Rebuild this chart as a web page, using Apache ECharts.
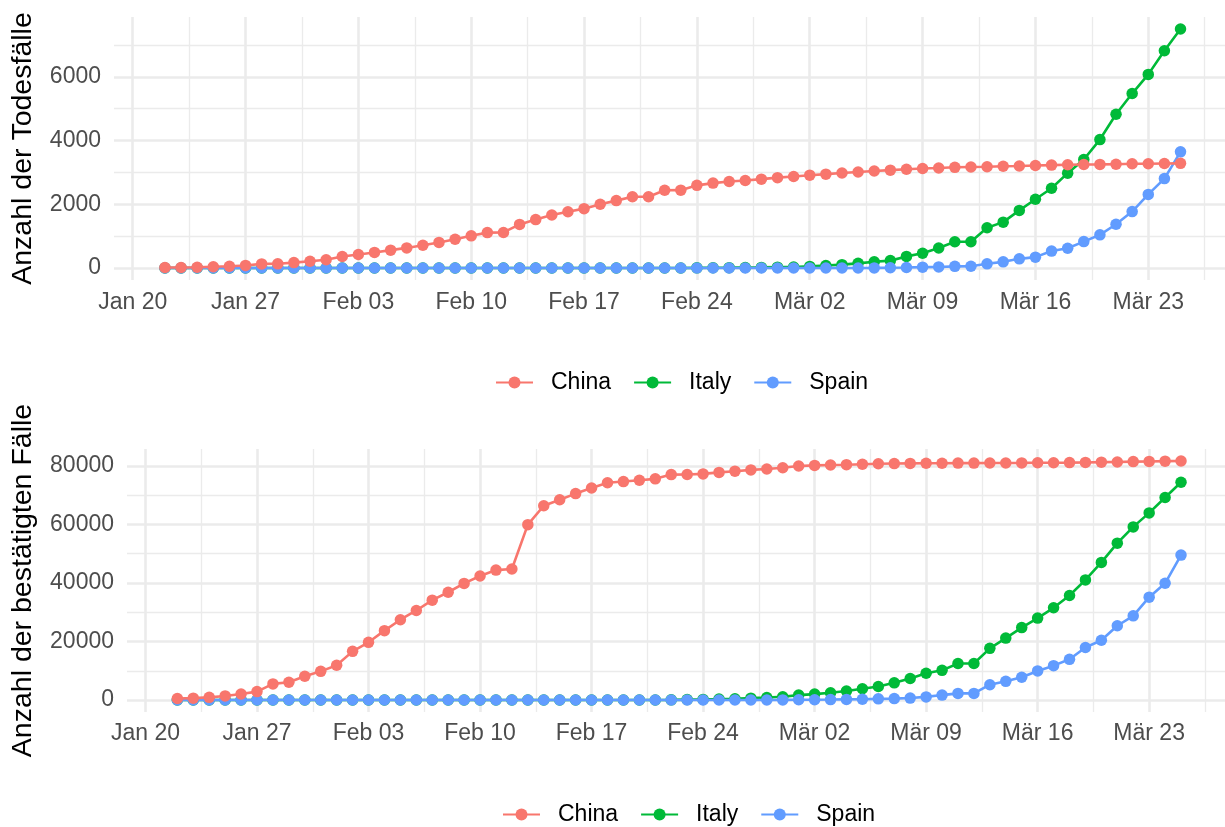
<!DOCTYPE html>
<html>
<head>
<meta charset="utf-8">
<script src="https://cdn.jsdelivr.net/npm/echarts@6/dist/echarts.min.js"></script>
<style>
html,body{margin:0;padding:0;background:#fff;}
#chart{width:1225px;height:827px;}
</style>
</head>
<body>
<div id="chart"></div>
<script>
// ---- Data ----
const dates = [
"2020-01-22","2020-01-23","2020-01-24","2020-01-25","2020-01-26","2020-01-27","2020-01-28","2020-01-29","2020-01-30","2020-01-31",
"2020-02-01","2020-02-02","2020-02-03","2020-02-04","2020-02-05","2020-02-06","2020-02-07","2020-02-08","2020-02-09","2020-02-10",
"2020-02-11","2020-02-12","2020-02-13","2020-02-14","2020-02-15","2020-02-16","2020-02-17","2020-02-18","2020-02-19","2020-02-20",
"2020-02-21","2020-02-22","2020-02-23","2020-02-24","2020-02-25","2020-02-26","2020-02-27","2020-02-28","2020-02-29",
"2020-03-01","2020-03-02","2020-03-03","2020-03-04","2020-03-05","2020-03-06","2020-03-07","2020-03-08","2020-03-09","2020-03-10",
"2020-03-11","2020-03-12","2020-03-13","2020-03-14","2020-03-15","2020-03-16","2020-03-17","2020-03-18","2020-03-19","2020-03-20",
"2020-03-21","2020-03-22","2020-03-23","2020-03-24","2020-03-25"
];

const deathsChina = [17,18,26,42,56,82,131,133,171,213,
259,361,425,490,562,632,717,804,904,1011,
1112,1117,1369,1521,1663,1766,1864,2003,2116,2238,
2238,2443,2445,2595,2665,2717,2746,2790,2837,
2872,2914,2947,2983,3015,3044,3072,3100,3123,3139,
3161,3172,3180,3193,3203,3217,3230,3241,3249,3253,
3259,3274,3274,3281,3285];

const deathsItaly = [0,0,0,0,0,0,0,0,0,0,
0,0,0,0,0,0,0,0,0,0,
0,0,0,0,0,0,0,0,0,0,
1,2,3,7,10,12,17,21,29,
34,52,79,107,148,197,233,366,463,631,
827,827,1266,1441,1809,2158,2503,2978,3405,4032,
4825,5476,6077,6820,7503];

const deathsSpain = [0,0,0,0,0,0,0,0,0,0,
0,0,0,0,0,0,0,0,0,0,
0,0,0,0,0,0,0,0,0,0,
0,0,0,0,0,0,0,0,0,
0,0,1,2,3,5,10,17,28,35,
54,55,133,195,289,342,533,623,830,1043,
1375,1772,2311,2808,3647];

const casesChina = [548,643,920,1406,2075,2877,5509,6087,8141,9802,
11891,16630,19716,23707,27440,30587,34110,36814,39829,42354,
44386,44759,59895,66358,68413,70513,72434,74211,74619,75077,
75550,77001,77022,77241,77754,78166,78600,78928,79356,
79932,80136,80261,80386,80537,80690,80770,80823,80860,80887,
80921,80932,80945,80977,81003,81033,81058,81102,81156,81250,
81305,81435,81498,81591,81661];

const casesItaly = [0,0,0,0,0,0,0,0,0,2,
2,2,2,2,2,2,3,3,3,3,
3,3,3,3,3,3,3,3,3,3,
20,62,155,229,322,453,655,888,1128,
1694,2036,2502,3089,3858,4636,5883,7375,9172,10149,
12462,12462,17660,21157,24747,27980,31506,35713,41035,47021,
53578,59138,63927,69176,74386];

const casesSpain = [0,0,0,0,0,0,0,0,0,0,
1,1,1,1,1,1,1,1,2,2,
2,2,2,2,2,2,2,2,2,2,
2,2,2,2,6,13,15,32,45,
84,120,165,222,259,400,500,673,1073,1695,
2277,2277,5232,6391,7798,9942,11748,13910,17963,20410,
25374,28768,35136,39885,49515];

// x tick labels (weekly breaks) and their dates
const xTickDates = ["2020-01-20","2020-01-27","2020-02-03","2020-02-10","2020-02-17","2020-02-24","2020-03-02","2020-03-09","2020-03-16","2020-03-23"];
const xTickLabels = ["Jan 20","Jan 27","Feb 03","Feb 10","Feb 17","Feb 24","Mär 02","Mär 09","Mär 16","Mär 23"];
const xMinorDates = ["2020-01-23T12:00:00Z","2020-01-30T12:00:00Z","2020-02-06T12:00:00Z","2020-02-13T12:00:00Z","2020-02-20T12:00:00Z","2020-02-27T12:00:00Z","2020-03-05T12:00:00Z","2020-03-12T12:00:00Z","2020-03-19T12:00:00Z","2020-03-26T12:00:00Z"];

const yTicksDeaths = [0,2000,4000,6000];
const yMinorDeaths = [1000,3000,5000,7000];
const yTicksCases = [0,20000,40000,60000,80000];
const yMinorCases = [10000,30000,50000,70000];

const countries = ["China","Italy","Spain"];
const colors = {China:"#F8766D", Italy:"#00BA38", Spain:"#619CFF"};

// ---- Helpers ----
const BASE = Date.UTC(2020,0,20);
function dayIdx(s){ const d = new Date(s.length===10 ? s+"T00:00:00Z" : s); return (d.getTime()-BASE)/86400000; }
const days = dates.map(dayIdx);
const majorDays = xTickDates.map(dayIdx);
const minorDays = xMinorDates.map(dayIdx);
function pairs(vals){ return vals.map((v,i)=>[days[i], v]); }
function xLabel(v){ const i = majorDays.indexOf(v); return i>=0 ? xTickLabels[i] : ""; }

const FONT = '"Liberation Sans", Arial, Helvetica, sans-serif';
const X_MIN = -1.16, X_MAX = 67.76;
const GRID_COLOR = "#EBEBEB";

function majorX(gi){
  return {gridIndex:gi, type:'value', min:X_MIN, max:X_MAX, position:'bottom',
    axisLine:{show:false}, axisTick:{show:false, customValues:majorDays},
    axisLabel:{customValues:majorDays, formatter:xLabel, color:'#4D4D4D', fontSize:23, fontFamily:FONT, margin: gi===0?11:10},
    splitLine:{show:true, lineStyle:{color:GRID_COLOR, width:2.6}}};
}
function minorX(gi){
  return {gridIndex:gi, type:'value', min:X_MIN, max:X_MAX, position:'bottom',
    axisLine:{show:false}, axisTick:{show:false, customValues:minorDays},
    axisLabel:{show:false},
    splitLine:{show:true, lineStyle:{color:GRID_COLOR, width:1.3}}};
}
function majorY(gi, min, max, ticks, name, gap){
  return {gridIndex:gi, type:'value', min:min, max:max,
    name:name, nameLocation:'middle', nameGap:gap, nameRotate:90,
    nameTextStyle:{color:'#000', fontSize:28.5, fontFamily:FONT},
    axisLine:{show:false}, axisTick:{show:false, customValues:ticks},
    axisLabel:{customValues:ticks, formatter:v=>String(v), color:'#4D4D4D', fontSize:23, fontFamily:FONT, margin:13},
    splitLine:{show:true, lineStyle:{color:GRID_COLOR, width:2.6}}};
}
function minorY(gi, min, max, ticks){
  return {gridIndex:gi, type:'value', min:min, max:max,
    axisLine:{show:false}, axisTick:{show:false, customValues:ticks},
    axisLabel:{show:false},
    splitLine:{show:true, lineStyle:{color:GRID_COLOR, width:1.3}}};
}
function mkSeries(name, vals, xi, yi, z){
  return {name:name, type:'line', xAxisIndex:xi, yAxisIndex:yi, data:pairs(vals),
    symbol:'circle', symbolSize:11.5, showSymbol:true, showAllSymbol:true,
    lineStyle:{color:colors[name], width:2.6}, itemStyle:{color:colors[name], borderWidth:0},
    z:z, silent:true, animation:false};
}
function mkLegend(left, top){
  return {data:countries, left:left, top:top, orient:'horizontal', padding:0,
    itemWidth:37, itemHeight:15, itemGap:22, selectedMode:false,
    textStyle:{color:'#000', fontSize:23, fontFamily:FONT, padding:[0,0,0,13]}};
}

const chart = echarts.init(document.getElementById('chart'), null, {renderer:'canvas'});
chart.setOption({
  animation:false,
  backgroundColor:'#fff',
  textStyle:{fontFamily:FONT},
  grid:[
    {left:114, top:17, right:0, height:263, containLabel:false, outerBoundsMode:'none'},
    {left:127, top:449, right:0, height:263, containLabel:false, outerBoundsMode:'none'}
  ],
  xAxis:[majorX(0), minorX(0), majorX(1), minorX(1)],
  yAxis:[
    majorY(0, -375, 7878, yTicksDeaths, 'Anzahl der Todesfälle', 76),
    minorY(0, -375, 7878, yMinorDeaths),
    majorY(1, -4083, 85744, yTicksCases, 'Anzahl der bestätigten Fälle', 89),
    minorY(1, -4083, 85744, yMinorCases)
  ],
  legend:[mkLegend(495, 371), mkLegend(502, 803)],
  series:[
    mkSeries('Italy', deathsItaly, 0, 0, 2),
    mkSeries('Spain', deathsSpain, 0, 0, 3),
    mkSeries('China', deathsChina, 0, 0, 4),
    mkSeries('Italy', casesItaly, 2, 2, 2),
    mkSeries('Spain', casesSpain, 2, 2, 3),
    mkSeries('China', casesChina, 2, 2, 4)
  ]
});
</script>
</body>
</html>
